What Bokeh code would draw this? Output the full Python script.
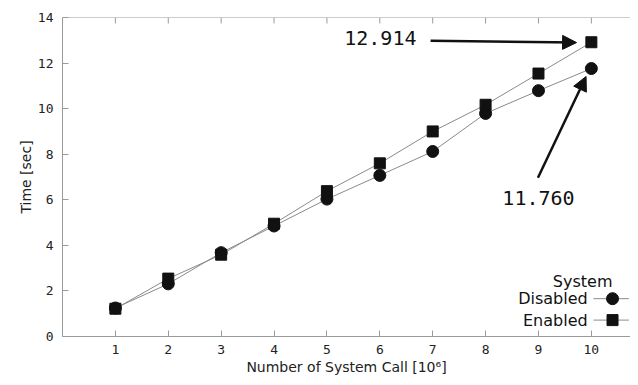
import math
from bokeh.plotting import figure
from bokeh.models import Range1d, LinearAxis, FixedTicker, Label, Arrow, NormalHead, Span
from bokeh.embed import file_html
from bokeh.resources import INLINE

calls = [1, 2, 3, 4, 5, 6, 7, 8, 9, 10]
disabled = [1.25, 2.31, 3.68, 4.85, 6.03, 7.07, 8.12, 9.79, 10.79, 11.760]
enabled = [1.22, 2.54, 3.59, 4.95, 6.38, 7.60, 9.00, 10.17, 11.54, 12.914]
x_ticks = [1, 2, 3, 4, 5, 6, 7, 8, 9, 10]
y_ticks = [0, 2, 4, 6, 8, 10, 12, 14]

FRAME = "#9a9a9a"
MONO = "DejaVu Sans Mono"
SANS = "DejaVu Sans"

p = figure(width=630, height=377, output_backend="svg", toolbar_location=None,
           x_range=Range1d(0, 10.74), y_range=Range1d(0, 14),
           min_border_left=62, min_border_right=0, min_border_top=17, min_border_bottom=41,
           x_axis_location=None, y_axis_location=None)
p.outline_line_color = None
p.grid.visible = False
p.background_fill_color = "white"
p.border_fill_color = "white"


def style(ax):
    ax.axis_line_color = FRAME
    ax.major_tick_line_color = FRAME
    ax.major_tick_in = 6
    ax.major_tick_out = 0
    ax.minor_tick_line_color = None
    ax.major_label_text_font = MONO
    ax.major_label_text_font_size = "13px"
    ax.major_label_text_color = "#222222"
    ax.axis_label_text_font = SANS
    ax.axis_label_text_font_size = "14px"
    ax.axis_label_text_font_style = "normal"
    ax.axis_label_text_color = "#222222"


xb = LinearAxis(ticker=FixedTicker(ticks=x_ticks), axis_label="Number of System Call [10\u2076]")
style(xb)
xb.major_label_standoff = 8
xb.axis_label_standoff = 2
p.add_layout(xb, "below")

yl = LinearAxis(ticker=FixedTicker(ticks=y_ticks), axis_label="Time [sec]")
style(yl)
yl.major_label_standoff = 9
yl.axis_label_standoff = 1
p.add_layout(yl, "left")

# top border with mirrored inward ticks
p.add_layout(Span(location=14, dimension="width", line_color=FRAME, line_width=1))
p.ray(x=x_ticks, y=[14] * len(x_ticks), length=6, length_units="screen",
      angle=-math.pi / 2, line_color=FRAME, line_width=1)

# series
p.line(calls, disabled, line_color="#8a8a8a", line_width=1)
p.line(calls, enabled, line_color="#8a8a8a", line_width=1)
p.scatter(calls, disabled, marker="circle", size=12, fill_color="#111111", line_color="#111111")
p.scatter(calls, enabled, marker="square", size=11, fill_color="#111111", line_color="#111111")

# annotations
p.add_layout(Label(x=6.01, y=13.08, text="12.914", text_font=MONO, text_font_size="20px",
                   text_align="center", text_baseline="middle", text_color="#111111"))
p.add_layout(Label(x=9.0, y=6.07, text="11.760", text_font=MONO, text_font_size="20px",
                   text_align="center", text_baseline="middle", text_color="#111111"))
p.add_layout(Arrow(end=NormalHead(size=14, fill_color="#111111", line_color="#111111"),
                   x_start=6.96, y_start=12.98, x_end=9.72, y_end=12.9,
                   line_width=2.5, line_color="#111111"))
p.add_layout(Arrow(end=NormalHead(size=14, fill_color="#111111", line_color="#111111"),
                   x_start=8.99, y_start=6.97, x_end=9.9, y_end=11.41,
                   line_width=2.5, line_color="#111111"))

# legend (gnuplot style: text left, sample right)
leg_text_x = 9.93
leg_sample_x0, leg_sample_x1, leg_marker_x = 10.04, 10.71, 10.40
leg_rows = [("Disabled", "circle", 12, 1.66), ("Enabled", "square", 11, 0.72)]
p.add_layout(Label(x=leg_marker_x, y=2.40, text="System", text_font=SANS, text_font_size="16px",
                   text_align="right", text_baseline="middle", text_color="#111111"))
for name, mk, sz, ly in leg_rows:
    p.add_layout(Label(x=leg_text_x, y=ly, text=name, text_font=SANS, text_font_size="16px",
                       text_align="right", text_baseline="middle", text_color="#111111"))
    p.line([leg_sample_x0, leg_sample_x1], [ly, ly], line_color="#8a8a8a", line_width=1)
    p.scatter([leg_marker_x], [ly], marker=mk, size=sz, fill_color="#111111", line_color="#111111")

open("out.html", "w").write(file_html(p, INLINE))
